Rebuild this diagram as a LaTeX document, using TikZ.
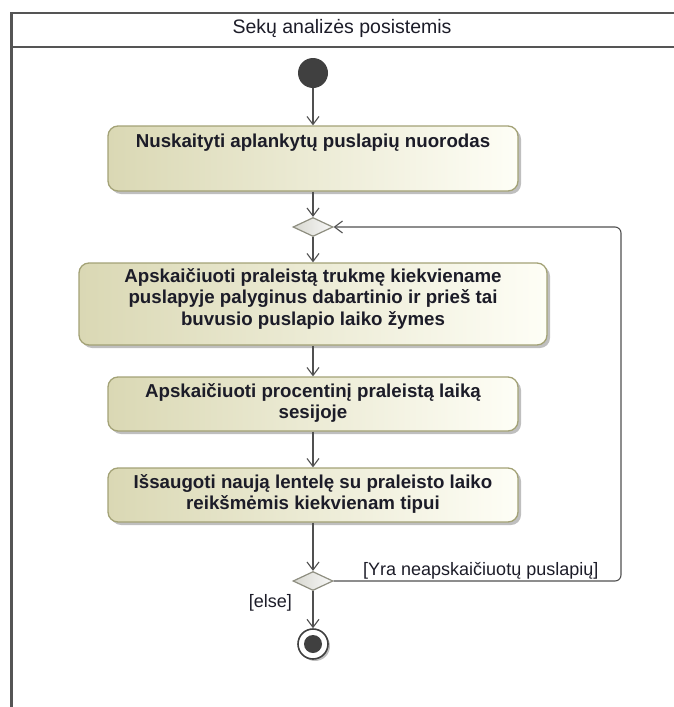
\documentclass[tikz,border=0pt]{standalone}
\usepackage{fontspec}
\setmainfont{Liberation Sans}
\usetikzlibrary{arrows.meta,shapes.geometric,shadows}

\definecolor{frameline}{HTML}{555555}
\definecolor{actL}{HTML}{DAD8B4}
\definecolor{actR}{HTML}{FEFEF6}
\definecolor{actdraw}{HTML}{A3A276}
\definecolor{flowline}{HTML}{505050}
\definecolor{ink}{HTML}{1C1C28}
\definecolor{dotfill}{HTML}{404040}
\definecolor{decL}{HTML}{D8D8D0}
\definecolor{decR}{HTML}{F8F8F8}
\definecolor{decdraw}{HTML}{8E8E80}

\tikzset{
  frame/.style={draw=frameline, line width=2.4pt},
  action/.style={rectangle, rounded corners=10pt, draw=actdraw, line width=1.3pt,
    left color=actL, right color=actR, inner sep=0pt,
    drop shadow={shadow xshift=3pt, shadow yshift=-3pt, fill=black, opacity=0.25}},
  acttext/.style={align=center, inner sep=0pt, text=ink,
    font=\fontsize{18.7}{21.5}\selectfont\bfseries},
  decision/.style={diamond, draw=decdraw, line width=1.2pt, left color=decL, right color=decR,
    minimum width=40pt, minimum height=19pt, inner sep=0pt},
  flow/.style={draw=flowline, line width=1.1pt, -{Straight Barb[length=8pt,width=12pt]}},
  guard/.style={inner sep=0pt, text=ink, font=\fontsize{18}{21}\selectfont},
}

\begin{document}
\begin{tikzpicture}[x=1pt, y=-1pt]
\useasboundingbox (0,0) rectangle (674,707);
\clip (0,0) rectangle (674,707);

% swimlane frame with its header
\draw[frame] (11.5,710) -- (11.5,13) -- (690,13);
\draw[frame] (11.5,47) -- (690,47);
\node[inner sep=0pt, text=ink, font=\fontsize{19.5}{22}\selectfont, anchor=base] (title) at (342,33) {Sekų analizės posistemis};

% initial node
\node[circle, fill=dotfill, minimum size=30pt, inner sep=0pt] (start) at (313,73) {};

% actions (the base anchor of a multi-line text is its last line)
\node[action, minimum width=410pt, minimum height=65pt] (a1) at (313,158.5) {};
\node[acttext, anchor=base] (a1t) at (313,147) {Nuskaityti aplankytų puslapių nuorodas};

\node[decision] (d1) at (313,227) {};

\node[action, minimum width=468pt, minimum height=82pt] (a2) at (313,304) {};
\node[acttext, anchor=base] (a2t) at (313,325) {Apskaičiuoti praleistą trukmę kiekviename\\puslapyje palyginus dabartinio ir prieš tai\\buvusio puslapio laiko žymes};

\node[action, minimum width=410pt, minimum height=54pt] (a3) at (313,404) {};
\node[acttext, anchor=base] (a3t) at (313,418.5) {Apskaičiuoti procentinį praleistą laiką\\sesijoje};

\node[action, minimum width=410pt, minimum height=54pt] (a4) at (313,495) {};
\node[acttext, anchor=base] (a4t) at (313,509.5) {Išsaugoti naują lentelę su praleisto laiko\\reikšmėmis kiekvienam tipui};

\node[decision] (d2) at (313,581) {};

% final node
\node[circle, draw=dotfill, line width=1.6pt, fill=white, minimum size=30pt, inner sep=0pt,
  drop shadow={shadow xshift=2pt, shadow yshift=-2pt, fill=black, opacity=0.25}] (end) at (313,644) {};
\node[circle, fill=dotfill, minimum size=18pt, inner sep=0pt] (enddot) at (end.center) {};

% control flows
\draw[flow] (start) -- (a1);
\draw[flow] (a1) -- (d1);
\draw[flow] (d1) -- (a2);
\draw[flow] (a2) -- (a3);
\draw[flow] (a3) -- (a4);
\draw[flow] (a4) -- (d2);
\draw[flow] (d2) -- (end);

\coordinate (loopB) at (621,581);
\coordinate (loopT) at (621,227);
\draw[flow, rounded corners=6pt] (d2.east) -- (loopB) -- (loopT) -- (d1.east);

% guards
\node[guard, anchor=base west] (gyes) at (363,575) {[Yra neapskaičiuotų puslapių]};
\node[guard, anchor=base east] (gelse) at (292,607) {[else]};
\end{tikzpicture}
\end{document}
